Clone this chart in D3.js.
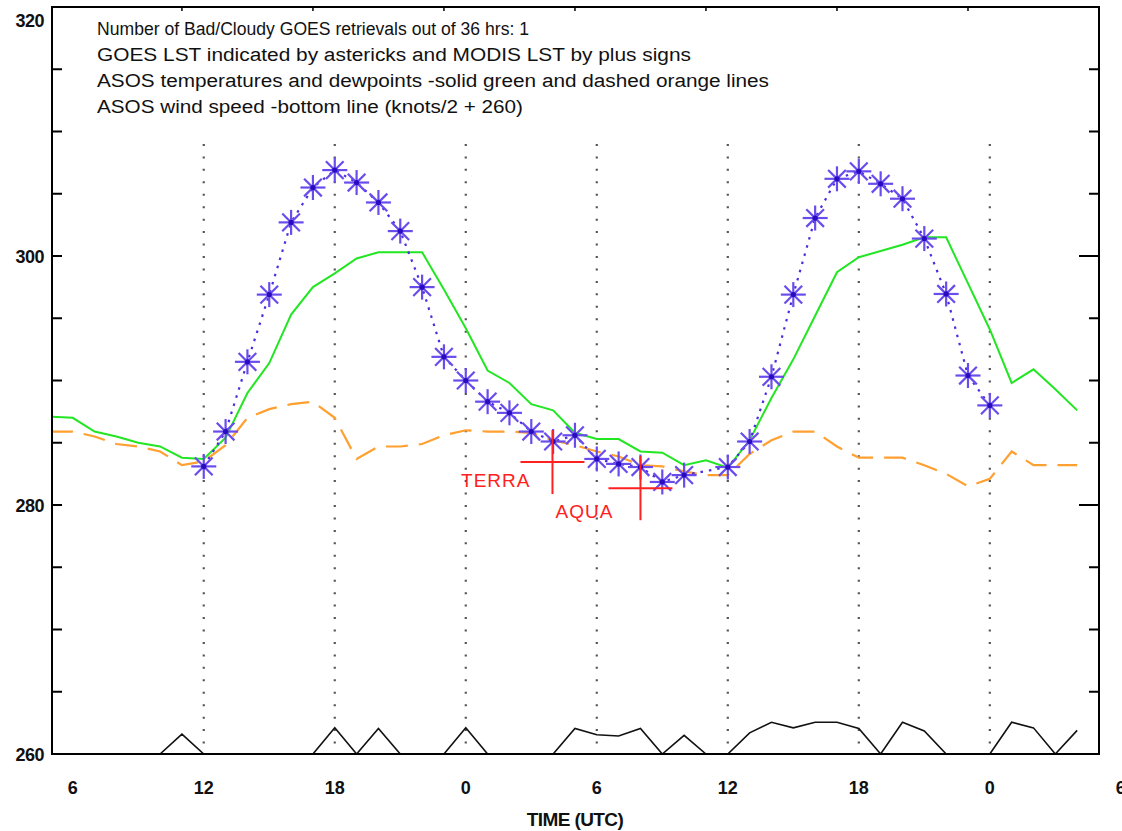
<!DOCTYPE html>
<html>
<head>
<meta charset="utf-8">
<script src="https://cdn.jsdelivr.net/npm/d3@7"></script>
<style>
  html, body { margin: 0; padding: 0; background: #fff; }
  svg { display: block; }
</style>
</head>
<body>
<svg id="chart" width="1122" height="831"></svg>
<script>
// ---------------- DATA ----------------
// ASOS hourly samples, hours since 00 UTC of day 1 (5 .. 52)
const asosHours = d3.range(5, 53);
// ASOS temperature (K) - solid green
const asosTemp = [
  287.1, 287.0, 285.9, 285.5, 285.0, 284.7, 283.8, 283.7, 285.4, 289.0,
  291.4, 295.3, 297.5, 298.6, 299.8, 300.3, 300.3, 300.3, 297.3, 294.2,
  290.8, 289.8, 288.1, 287.6, 285.8, 285.3, 285.3, 284.3, 284.2, 283.2,
  283.6, 283.0, 285.2, 288.6, 291.7, 295.2, 298.7, 299.9, 300.4, 300.9,
  301.5, 301.5, 297.8, 294.1, 289.8, 290.9, 289.3, 287.6
];
// ASOS dewpoint (K) - dashed orange
const asosDew = [
  285.9, 285.9, 285.5, 284.9, 284.7, 284.3, 283.2, 283.5, 284.8, 287.0,
  287.7, 288.1, 288.3, 287.0, 283.7, 284.7, 284.7, 284.9, 285.6, 286.0,
  285.9, 285.9, 285.8, 285.2, 284.8, 284.3, 283.9, 283.2, 283.1, 282.7,
  282.4, 282.4, 284.1, 285.2, 285.9, 285.9, 284.7, 283.8, 283.8, 283.8,
  283.2, 282.5, 281.5, 282.1, 284.3, 283.2, 283.2, 283.2
];
// ASOS wind speed plotted as knots/2 + 260 - bottom black line
const asosWind = [
  260, 260, 260, 260, 260, 260, 261.6, 260, 260, 260,
  260, 260, 260, 262.1, 260, 262.05, 260, 260, 260, 262.1,
  260, 260, 260, 260, 262.05, 261.55, 261.45, 262.05, 260, 261.5,
  260, 260, 261.7, 262.55, 262.1, 262.55, 262.55, 262.05, 260, 262.55,
  261.85, 260, 260, 260, 262.55, 262.1, 260, 261.9
];
// GOES LST (asterisks); hour 35 was a bad/cloudy retrieval
const goesHours = [12,13,14,15,16,17,18,19,20,21,22,23,24,25,26,27,28,29,30,31,32,33,34,
                   36,37,38,39,40,41,42,43,44,45,46,47,48];
const goesLST = [
  283.1, 285.9, 291.5, 296.9, 302.7, 305.5, 306.9, 305.9, 304.3, 302.0,
  297.5, 291.9, 290.0, 288.3, 287.4, 285.9, 285.1, 285.6, 283.7, 283.3,
  283.05, 281.85, 282.4,
  283.05, 285.1, 290.3, 296.9, 303.05, 306.2, 306.8, 305.8, 304.6, 301.4,
  296.95, 290.4, 288.0
];
// MODIS LST (plus signs)
const modisNames = ["TERRA", "AQUA"];
const modisHours = [27.97, 32.0];
const modisLST = [283.45, 281.35];

// Axes
const xTickHours = [6, 12, 18, 24, 30, 36, 42, 48, 54];
const xTickLabels = ["6", "12", "18", "0", "6", "12", "18", "0", "6"];
const topTickHours = [11, 17, 23, 29, 35, 41, 47];
const gridHours = [12, 18, 24, 30, 36, 42, 48];
const yMajorTicks = [260, 280, 300, 320];
const yMinorTicks = [265, 270, 275, 285, 290, 295, 305, 310, 315];
const xTitle = "TIME (UTC)";
const infoLines = [
  "Number of Bad/Cloudy GOES retrievals out of 36 hrs: 1",
  "GOES LST indicated by astericks and MODIS LST by plus signs",
  "ASOS temperatures and dewpoints -solid green and dashed orange lines",
  "ASOS wind speed -bottom line (knots/2 + 260)"
];
const infoWidths = [432, 594, 672, 426];

// ---------------- DRAWING ----------------
const svg = d3.select("#chart");
const L = 52, R = 1099, T = 7, B = 754;
const x = d3.scaleLinear().domain([5.05, 53]).range([L, R]);
const y = d3.scaleLinear().domain([260, 320]).range([B, T]);

svg.append("rect").attr("width", 1122).attr("height", 831).attr("fill", "#fff");

svg.append("defs").append("clipPath").attr("id", "clip")
  .append("rect").attr("x", L).attr("y", T).attr("width", R - L).attr("height", B - T);

const plot = svg.append("g").attr("clip-path", "url(#clip)");

// dotted vertical lines
plot.selectAll("line.grid").data(gridHours).enter().append("line")
  .attr("class", "grid")
  .attr("x1", d => x(d)).attr("x2", d => x(d))
  .attr("y1", y(309)).attr("y2", y(260))
  .attr("stroke", "#555").attr("stroke-width", 2.2)
  .attr("stroke-dasharray", "2,10.45");

const asos = asosHours.map((h, i) => ({h, t: asosTemp[i], d: asosDew[i], w: asosWind[i]}));

// green temperature
plot.append("path").datum(asos)
  .attr("d", d3.line().x(d => x(d.h)).y(d => y(d.t)))
  .attr("fill", "none").attr("stroke", "#22e622").attr("stroke-width", 2);

// orange dewpoint dashed
plot.append("path").datum(asos)
  .attr("d", d3.line().x(d => x(d.h)).y(d => y(d.d)))
  .attr("fill", "none").attr("stroke", "#ffa030").attr("stroke-width", 2.2)
  .attr("stroke-dasharray", "22,11");

// wind line
plot.append("path").datum(asos)
  .attr("d", d3.line().x(d => x(d.h)).y(d => y(d.w)))
  .attr("fill", "none").attr("stroke", "#111").attr("stroke-width", 1.6);

// GOES dotted line
const goes = goesHours.map((h, i) => ({h, v: goesLST[i]}));
plot.append("path").datum(goes)
  .attr("d", d3.line().x(d => x(d.h)).y(d => y(d.v)))
  .attr("fill", "none").attr("stroke", "#4a2ee0").attr("stroke-width", 2.2)
  .attr("stroke-dasharray", "2.5,6");

// asterisks
const r = 12.5;
const ast = plot.selectAll("g.ast").data(goes).enter().append("g")
  .attr("class", "ast")
  .attr("transform", d => `translate(${x(d.h)},${y(d.v)})`);
[0, 45, 90, 135].forEach(a => {
  const rad = a * Math.PI / 180;
  ast.append("line")
    .attr("x1", -r * Math.cos(rad)).attr("y1", -r * Math.sin(rad))
    .attr("x2", r * Math.cos(rad)).attr("y2", r * Math.sin(rad))
    .attr("stroke", "#6a4cec").attr("stroke-width", 2.2);
});
ast.append("circle").attr("r", 2.6).attr("fill", "#2a0cc0");

// MODIS crosses
const modis = modisNames.map((n, i) => ({n, h: modisHours[i], v: modisLST[i]}));
const cr = 32;
const mg = plot.selectAll("g.modis").data(modis).enter().append("g")
  .attr("transform", d => `translate(${x(d.h)},${y(d.v)})`);
mg.append("line").attr("x1", -cr).attr("x2", cr).attr("y1", 0).attr("y2", 0)
  .attr("stroke", "#ff2020").attr("stroke-width", 2);
mg.append("line").attr("y1", -cr).attr("y2", cr).attr("x1", 0).attr("x2", 0)
  .attr("stroke", "#ff2020").attr("stroke-width", 2);
mg.append("text").text(d => d.n)
  .attr("x", (d, i) => i === 0 ? -22 : -27).attr("y", (d, i) => i === 0 ? 25 : 30)
  .attr("text-anchor", "end")
  .attr("font-family", "Liberation Sans, Arial, sans-serif")
  .attr("font-size", 19).attr("letter-spacing", 1).attr("fill", "#ff2020");

// frame
svg.append("rect").attr("x", L).attr("y", T).attr("width", R - L).attr("height", B - T)
  .attr("fill", "none").attr("stroke", "#000").attr("stroke-width", 2);

// left ticks
const allY = yMinorTicks.concat([280, 300]);
svg.selectAll("line.lt").data(allY).enter().append("line")
  .attr("x1", L).attr("x2", L + 10).attr("y1", d => y(d)).attr("y2", d => y(d))
  .attr("stroke", "#000").attr("stroke-width", 2);
// right ticks
svg.selectAll("line.rt").data(allY).enter().append("line")
  .attr("x1", R).attr("x2", d => yMajorTicks.includes(d) ? R - 20 : R - 10)
  .attr("y1", d => y(d)).attr("y2", d => y(d))
  .attr("stroke", "#000").attr("stroke-width", 2);
// top ticks
svg.selectAll("line.tt").data(topTickHours).enter().append("line")
  .attr("x1", d => x(d)).attr("x2", d => x(d)).attr("y1", T).attr("y2", T + 4)
  .attr("stroke", "#000").attr("stroke-width", 1.5);

// y labels
svg.selectAll("text.yl").data(yMajorTicks).enter().append("text")
  .text(d => d)
  .attr("x", 44)
  .attr("y", d => d === 320 ? y(d) + 20 : y(d) + 7)
  .attr("text-anchor", "end")
  .attr("font-family", "Liberation Sans, Arial, sans-serif")
  .attr("font-weight", "bold").attr("font-size", 18)
  .attr("letter-spacing", -0.5)
  .attr("fill", "#111");

// x labels
svg.selectAll("text.xl").data(xTickHours).enter().append("text")
  .text((d, i) => xTickLabels[i])
  .attr("x", d => x(d)).attr("y", 794)
  .attr("text-anchor", "middle")
  .attr("font-family", "Liberation Sans, Arial, sans-serif")
  .attr("font-weight", "bold").attr("font-size", 18)
  .attr("fill", "#111");

svg.append("text").text(xTitle)
  .attr("x", 575).attr("y", 826)
  .attr("text-anchor", "middle")
  .attr("font-family", "Liberation Sans, Arial, sans-serif")
  .attr("font-weight", "bold").attr("font-size", 19)
  .attr("letter-spacing", -0.6)
  .attr("fill", "#111");

// info text
svg.selectAll("text.info").data(infoLines).enter().append("text")
  .text(d => d)
  .attr("x", 97).attr("y", (d, i) => 35 + i * 26)
  .attr("textLength", (d, i) => infoWidths[i])
  .attr("lengthAdjust", "spacingAndGlyphs")
  .attr("font-family", "Liberation Sans, Arial, sans-serif")
  .attr("font-size", 18).attr("fill", "#111");
</script>
</body>
</html>
